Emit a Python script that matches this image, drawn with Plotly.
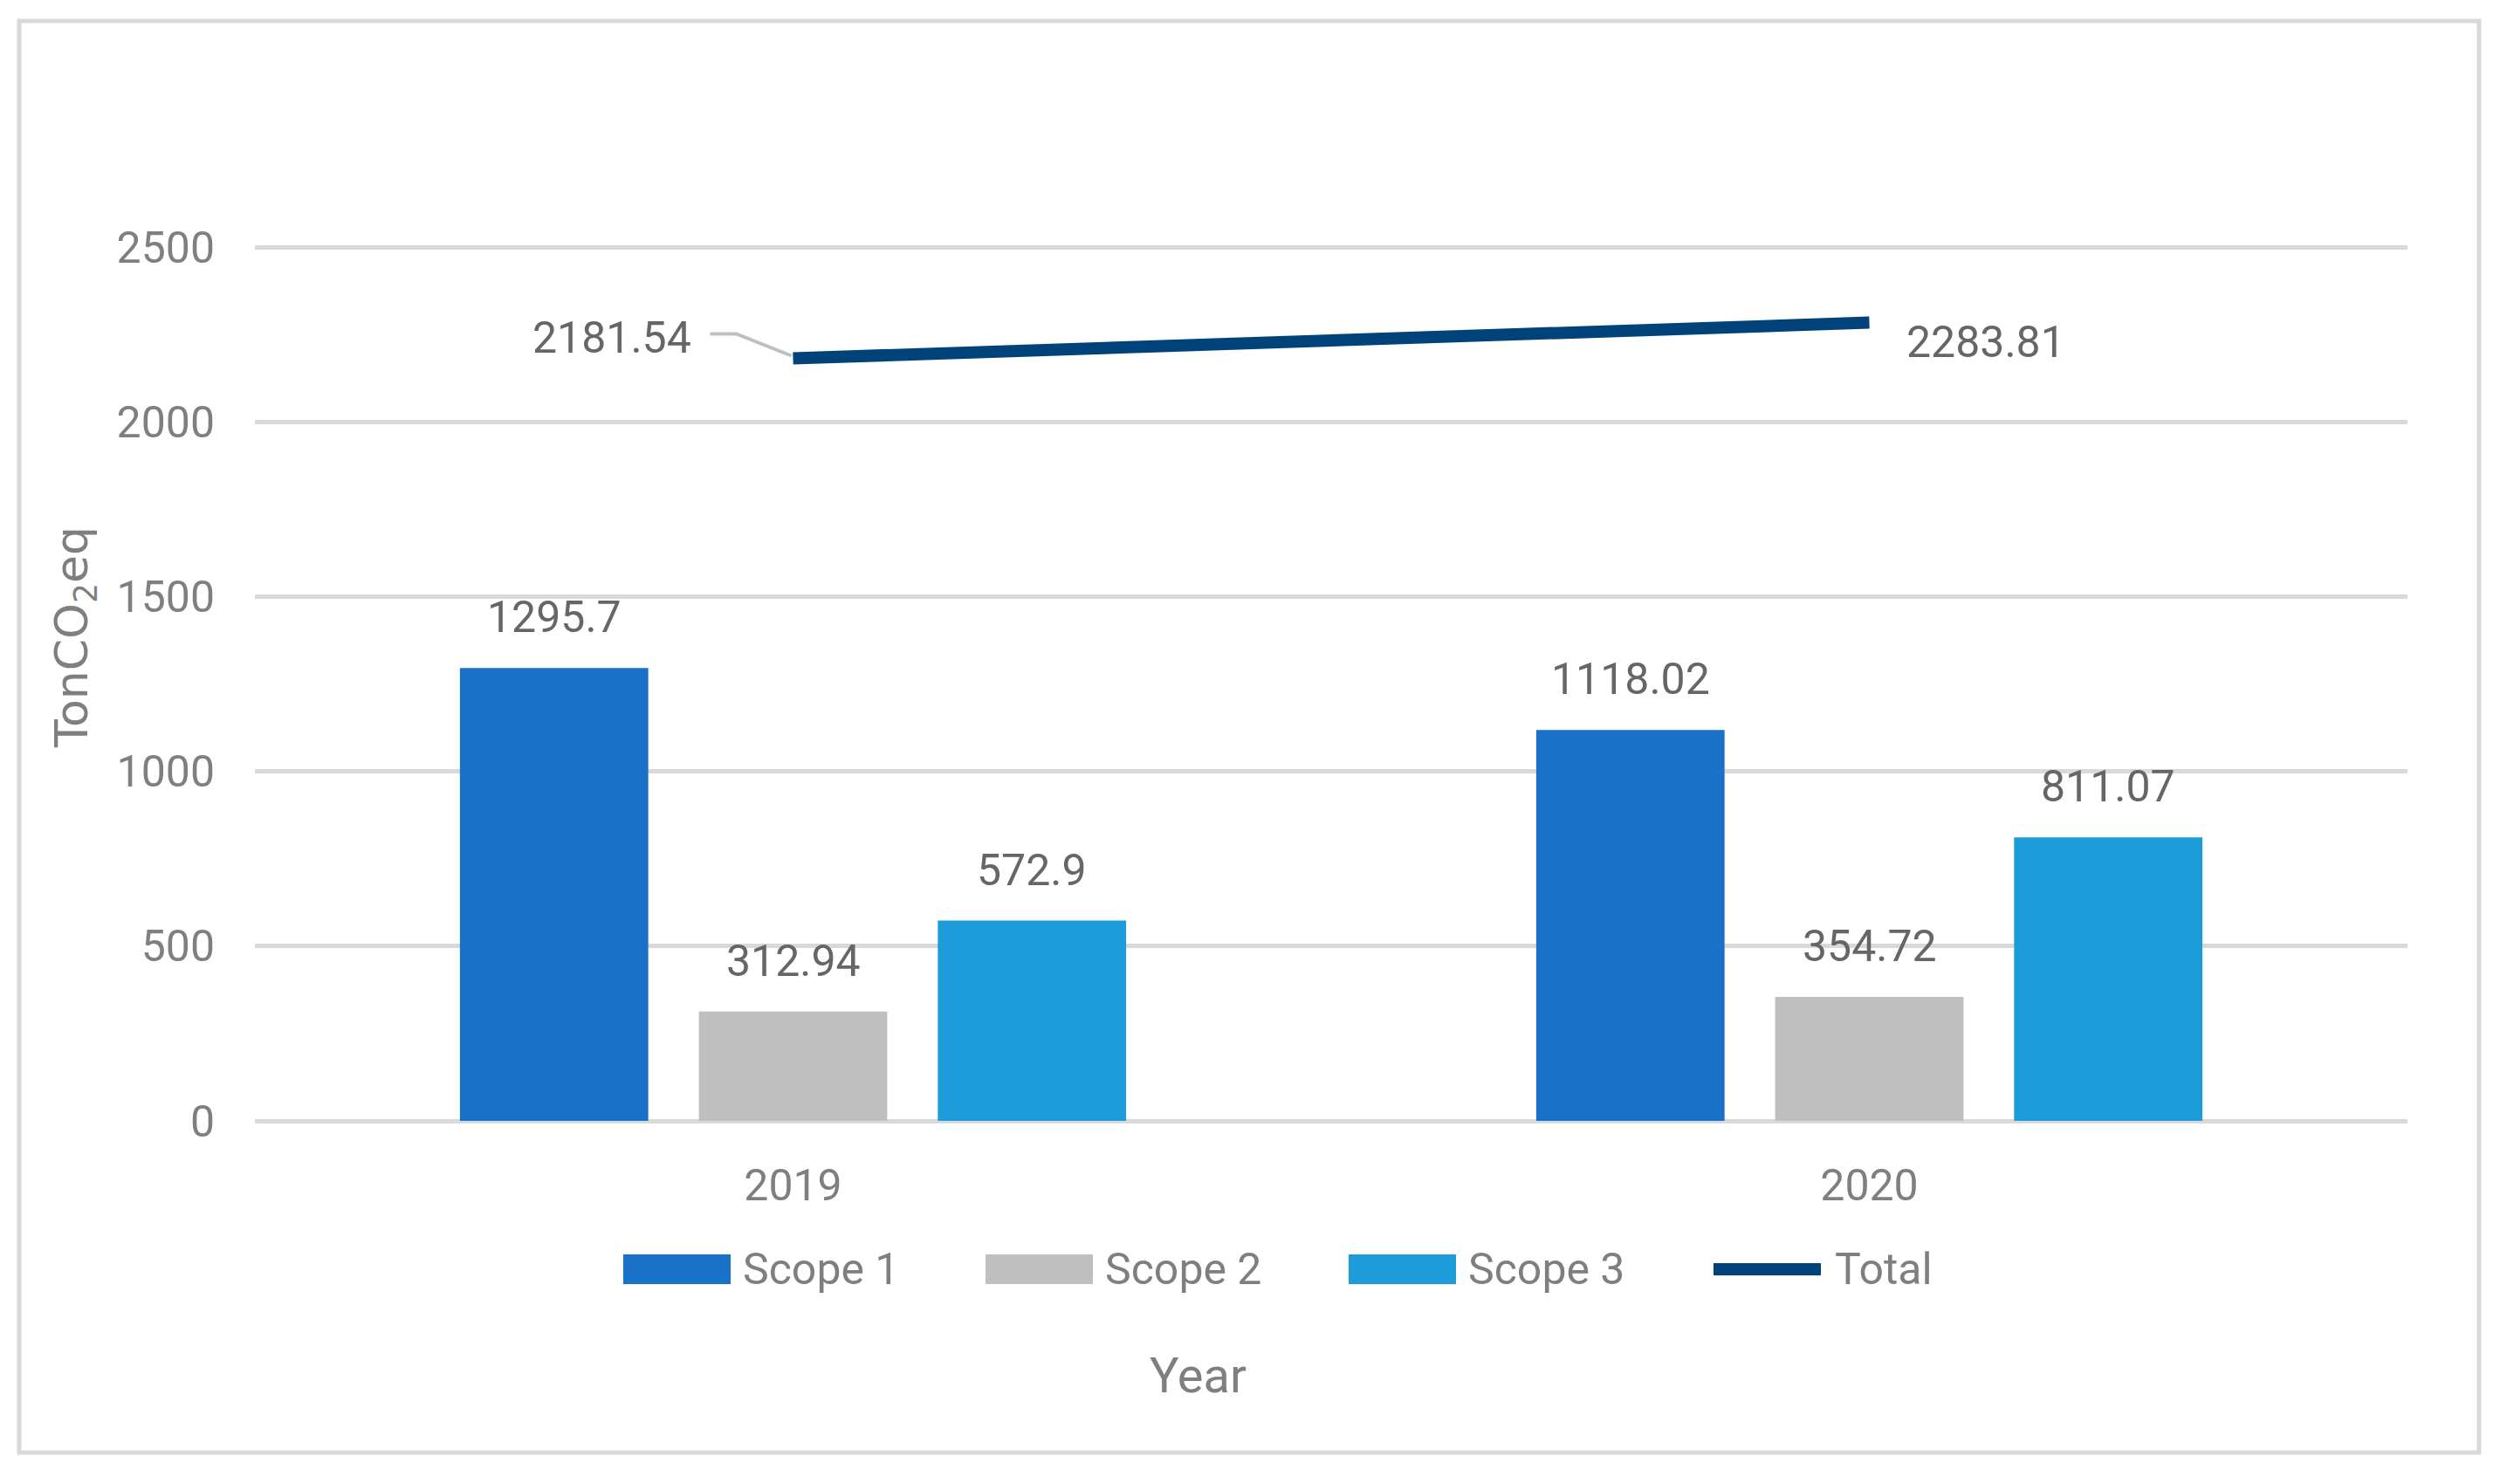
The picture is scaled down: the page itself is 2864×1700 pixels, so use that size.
import plotly.graph_objects as go

years = ['2019', '2020']
scope1 = [1295.7, 1118.02]
scope2 = [312.94, 354.72]
scope3 = [572.9, 811.07]
total = [2181.54, 2283.81]

series_names = ['Scope 1', 'Scope 2', 'Scope 3', 'Total']
bar_colors = ['#1A71C8', '#BFBFBF', '#1C9CD8']
line_color = '#00427A'

# the page body adds an 8px margin, so work in page pixels and subtract it
OFF = 8
W, H = 2864 - 2 * OFF, 1700 - 2 * OFF
PL, PR, PT, PB = 292 - OFF, 2758 - OFF, 281 - OFF, 1284 - OFF
FONT = 'Roboto, Liberation Sans, sans-serif'


def px(x):
    return (x - OFF - PL) / (PR - PL)


def py(y):
    return (PB - (y - OFF)) / (PB - PT)


idx = list(range(len(years)))
bar_w = 0.175
offsets = [-0.222, 0.0, 0.222]

fig = go.Figure()
annotations = []
for vals, name, color, off in zip([scope1, scope2, scope3], series_names, bar_colors, offsets):
    xs = [i + off for i in idx]
    fig.add_trace(go.Bar(x=xs, y=vals, width=bar_w, name=name,
                         marker=dict(color=color, line=dict(width=0)),
                         showlegend=False))
    for x, v in zip(xs, vals):
        annotations.append(dict(x=x, y=v, xref='x', yref='y', text=f'{v:g}',
                                showarrow=False, yanchor='middle', yshift=58,
                                font=dict(family=FONT, size=50, color='#666666')))

fig.add_trace(go.Scatter(x=idx, y=total, mode='lines', name='Total',
                         line=dict(color=line_color, width=14),
                         showlegend=False))

# total labels
annotations.append(dict(x=idx[0], y=total[0], xref='x', yref='y', text=f'{total[0]:.2f}',
                        showarrow=False, xanchor='right', yanchor='middle',
                        xshift=-115, yshift=24,
                        font=dict(family=FONT, size=50, color='#666666')))
annotations.append(dict(x=idx[1], y=total[1], xref='x', yref='y', text=f'{total[1]:.2f}',
                        showarrow=False, xanchor='left', yanchor='middle',
                        xshift=40, yshift=-22,
                        font=dict(family=FONT, size=50, color='#666666')))

shapes = []
# leader line for first total label
shapes.append(dict(type='path', xref='x', yref='y', xsizemode='pixel', ysizemode='pixel',
                   xanchor=idx[0], yanchor=total[0],
                   path='M -95,28 L -65,28 L -2,3',
                   line=dict(color='#BFBFBF', width=4)))

# outer frame
shapes.append(dict(type='rect', xref='paper', yref='paper',
                   x0=px(22), x1=px(2840), y0=py(1664), y1=py(24),
                   line=dict(color='#D9D9D9', width=5), layer='below'))

# legend, drawn by hand to get the wide swatches
leg_x = [714, 1129, 1545, 1956]
leg_y = 1454
for i, (name, lx) in enumerate(zip(series_names, leg_x)):
    if i < 3:
        shapes.append(dict(type='rect', xref='paper', yref='paper',
                           x0=px(lx), x1=px(lx + 123), y0=py(leg_y + 17), y1=py(leg_y - 17),
                           fillcolor=bar_colors[i], line=dict(width=0)))
        tx = lx + 135
    else:
        shapes.append(dict(type='line', xref='paper', yref='paper',
                           x0=px(lx + 7), x1=px(lx + 130), y0=py(leg_y), y1=py(leg_y),
                           line=dict(color=line_color, width=14)))
        tx = lx + 144
    annotations.append(dict(x=px(tx), y=py(leg_y), xref='paper', yref='paper', text=name,
                            showarrow=False, xanchor='left', yanchor='middle',
                            font=dict(family=FONT, size=50, color='#7F7F7F')))

# axis titles
annotations.append(dict(x=px(1372), y=py(1576), xref='paper', yref='paper', text='Year',
                        showarrow=False, xanchor='center', yanchor='middle',
                        font=dict(family=FONT, size=56, color='#7F7F7F')))
annotations.append(dict(x=px(86), y=py(730), xref='paper', yref='paper',
                        text='TonCO<sub>2</sub>eq', textangle=-90,
                        showarrow=False, xanchor='center', yanchor='middle',
                        font=dict(family='DejaVu Sans, sans-serif', size=52, color='#7F7F7F')))

fig.update_layout(
    width=W, height=H,
    margin=dict(l=PL, r=W - PR, t=PT, b=H - PB, pad=0),
    paper_bgcolor='white', plot_bgcolor='white',
    showlegend=False,
    shapes=shapes,
    annotations=annotations,
    xaxis=dict(range=[-0.5, 1.5], tickvals=idx, ticktext=years, showgrid=False,
               zeroline=False, showline=False, ticks='', ticklabelstandoff=40,
               tickfont=dict(family=FONT, size=50, color='#7F7F7F')),
    yaxis=dict(range=[0, 2505], tickvals=[0, 500, 1000, 1500, 2000, 2500],
               showgrid=True, gridcolor='#D9D9D9', gridwidth=5,
               zeroline=True, zerolinecolor='#D9D9D9', zerolinewidth=5,
               showline=False, ticks='', ticklabelstandoff=45,
               tickfont=dict(family=FONT, size=50, color='#7F7F7F')),
)

fig.write_html('out.html')
